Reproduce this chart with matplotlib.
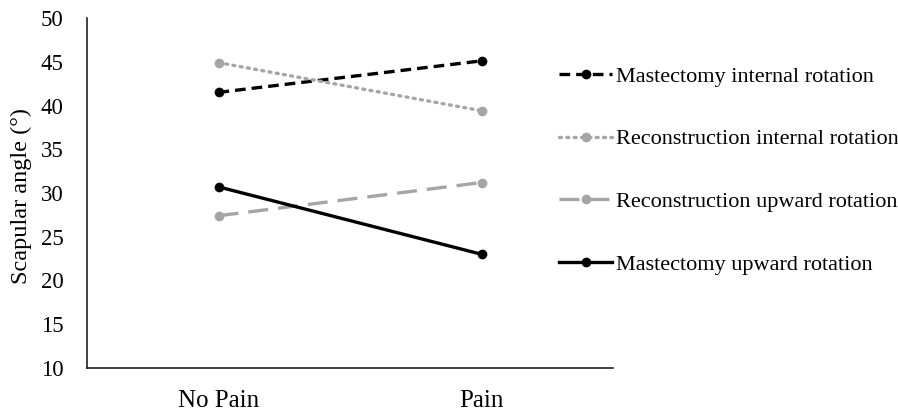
import matplotlib
matplotlib.use("Agg")
import matplotlib.pyplot as plt

categories = ["No Pain", "Pain"]
series_names = [
    "Mastectomy internal rotation",
    "Reconstruction internal rotation",
    "Reconstruction upward rotation",
    "Mastectomy upward rotation",
]
mastectomy_internal = [41.5, 45.1]
reconstruction_internal = [44.9, 39.4]
reconstruction_upward = [27.4, 31.2]
mastectomy_upward = [30.7, 23.0]
y_ticks = [10, 15, 20, 25, 30, 35, 40, 45, 50]

plt.rcParams['font.family'] = ['Liberation Serif', 'DejaVu Serif']

fig = plt.figure(figsize=(8.98, 4.16), dpi=100)
ax = fig.add_axes([87/898, 48/416, 526/898, 350/416])

x = list(range(len(categories)))
black = "#000000"
gray = "#a5a5a5"
lw = 2.4
ms = 7

styles = [
    dict(color=black, dashes=(3.2, 1.8)),
    dict(color=gray, dashes=(0.6, 1.6), dash_capstyle='round'),
    dict(color=gray, dashes=(6, 3)),
    dict(color=black, linestyle='-'),
]
data = [mastectomy_internal, reconstruction_internal, reconstruction_upward, mastectomy_upward]
for vals, name, st in zip(data, series_names, styles):
    ax.plot(x, vals, marker='o', markersize=ms, linewidth=lw,
            markeredgewidth=0, label=name, **st)

fs = 16
ax.set_xlim(-0.5, 1.5)
ax.set_ylim(10, 50)
ax.set_yticks(y_ticks)
ax.set_xticks(x)
ax.set_xticklabels(categories)
ax.tick_params(axis='both', length=0, colors='#000000')
ax.tick_params(axis='y', pad=17, labelsize=16.5)
ax.tick_params(axis='x', pad=16, labelsize=18)
for s in ['top', 'right']:
    ax.spines[s].set_visible(False)
for s in ['left', 'bottom']:
    ax.spines[s].set_linewidth(1.2)
    ax.spines[s].set_color('#222222')
ax.set_ylabel("Scapular angle (°)", fontsize=17.5)
ax.yaxis.set_label_coords(-0.104, 0.49)

leg = fig.legend(loc='upper left', bbox_to_anchor=(559/898, (416-66)/416),
                 frameon=False, fontsize=fs, handlelength=2.4,
                 handletextpad=0.15, labelspacing=1.9, borderpad=0,
                 borderaxespad=0, numpoints=1)

fig.savefig("out.png", dpi=100)
